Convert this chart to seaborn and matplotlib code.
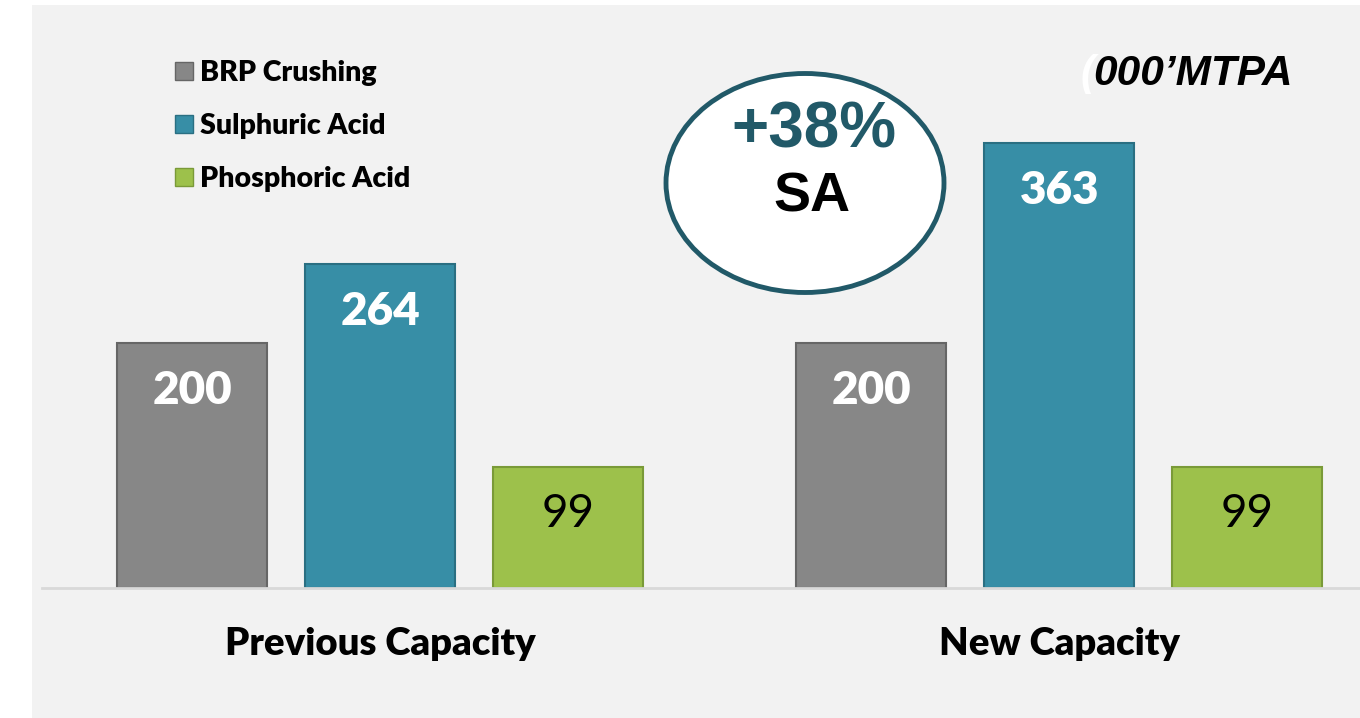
# Capacity comparison - BRP crushing, sulphuric and phosphoric acid
import pandas as pd
import matplotlib.pyplot as plt
import matplotlib.patches as mpatches
import seaborn as sb

# Data ('000 MTPA)
periods = ['Previous Capacity', 'New Capacity']
products = ['BRP Crushing', 'Sulphuric Acid', 'Phosphoric Acid']
brp_crushing = [200, 200]
sulphuric_acid = [264, 363]
phosphoric_acid = [99, 99]

colors = ['#878787', '#378ea6', '#9dc14b']
edges = ['#666666', '#2a6f82', '#7a9a38']

df = pd.DataFrame({
    'Period': periods * 3,
    'Product': [p for p in products for _ in periods],
    'Value': brp_crushing + sulphuric_acid + phosphoric_acid,
})

fig = plt.figure(figsize=(13.6, 7.18), dpi=100, facecolor='white')
# light gray panel behind the chart
fig.patches.append(mpatches.Rectangle((32 / 1360, 0), 1 - 32 / 1360, 1 - 5 / 718,
                                      transform=fig.transFigure, facecolor='#f2f2f2',
                                      edgecolor='none', zorder=-10))

ax = fig.add_axes([42 / 1360, 130 / 718, 1 - 42 / 1360, 583 / 718])
ax.patch.set_alpha(0)

sb.barplot(data=df, x='Period', y='Value', hue='Product', order=periods,
           hue_order=products, palette=colors, width=0.83, gap=0.2,
           saturation=1, ax=ax, legend=True)

for cont, ec in zip(ax.containers, edges):
    for p in cont:
        p.set_edgecolor(ec)
        p.set_linewidth(1.5)

# value labels inside bars
for i, cont in enumerate(ax.containers):
    for p in cont:
        txt_color = 'black' if i == 2 else 'white'
        weight = 'normal' if i == 2 else 'heavy'
        ax.annotate(f'{p.get_height():.0f}', (p.get_x() + p.get_width() / 2, p.get_height()),
                    xytext=(0, -34), textcoords='offset points', ha='center', va='center',
                    fontsize=33, fontweight=weight, color=txt_color, family='Lato')

ax.set_xlim(-0.498, 1.443)
ax.set_ylim(0, 475.5)
ax.set_xlabel('')
ax.set_ylabel('')
ax.set_yticks([])
ax.tick_params(axis='x', length=0, pad=28)
for lab in ax.get_xticklabels():
    lab.set_fontsize(27.5)
    lab.set_fontweight('heavy')
    lab.set_family('Lato')
for s in ['top', 'right', 'left']:
    ax.spines[s].set_visible(False)
ax.spines['bottom'].set_color('#d9d9d9')
ax.spines['bottom'].set_linewidth(2)

handles = [mpatches.Patch(facecolor=c, edgecolor=e) for c, e in zip(colors, edges)]
ax.legend(handles, products, loc='upper left', bbox_to_anchor=(175 / 1360, 1 - 60 / 718),
          bbox_transform=fig.transFigure, frameon=False, handlelength=0.62, handleheight=0.62,
          handletextpad=0.25, labelspacing=0.95, borderpad=0, borderaxespad=0,
          prop={'family': 'Lato', 'weight': 'heavy', 'size': 20.5})

# units
fig.text(1080 / 1360, 1 - 74 / 718, '(', color='white', fontsize=30, fontweight='bold',
         fontstyle='italic', family='Liberation Sans', ha='left', va='center')
fig.text(1093 / 1360, 1 - 74 / 718, '000\u2019MTPA', color='black', fontsize=30.5,
         fontweight='bold', fontstyle='italic', family='Liberation Sans', ha='left', va='center')

# +38% SA callout
fig.patches.append(mpatches.Ellipse((805 / 1360, 1 - 183 / 718), 278 / 1360, 219 / 718,
                                    transform=fig.transFigure, facecolor='white',
                                    edgecolor='#215968', linewidth=3.5, zorder=5))
fig.text(814 / 1360, 1 - 130 / 718, '+38%', color='#215968', fontsize=46, fontweight='bold',
         family='Liberation Sans', ha='center', va='center', zorder=6)
fig.text(812 / 1360, 1 - 197 / 718, 'SA', color='black', fontsize=40, fontweight='bold',
         family='Liberation Sans', ha='center', va='center', zorder=6)

plt.savefig('out.png', dpi=100)
